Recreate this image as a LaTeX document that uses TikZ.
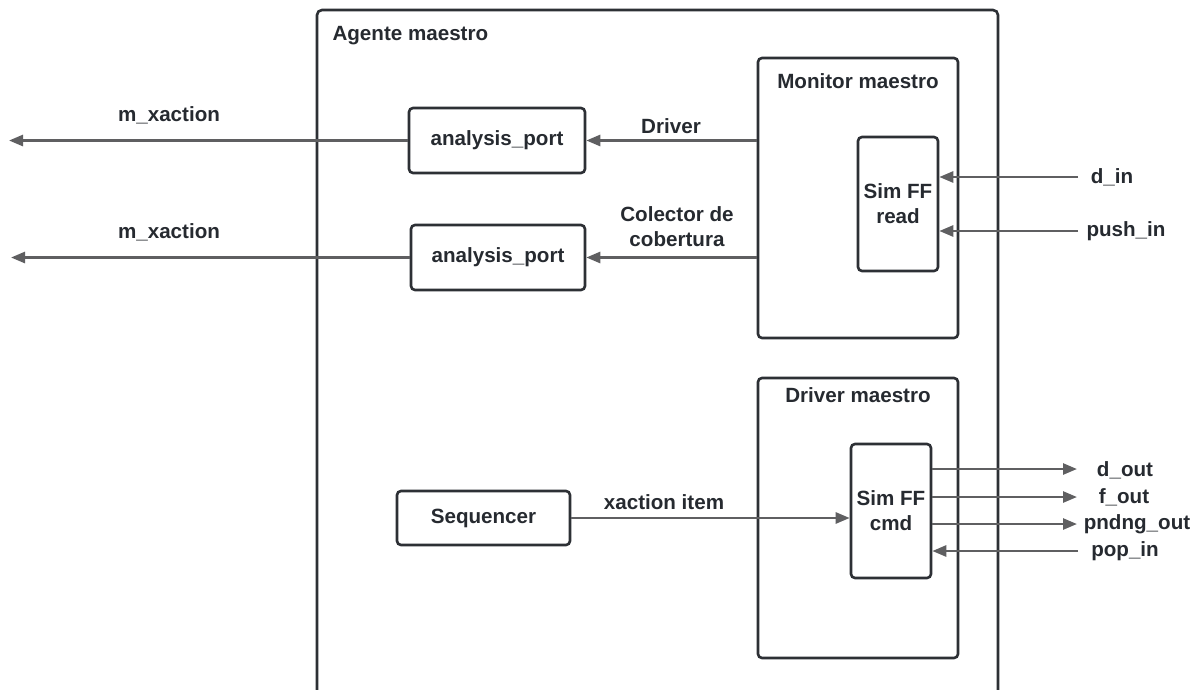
\documentclass[tikz,border=0pt]{standalone}
\usepackage{fontspec}
\setmainfont{Liberation Sans}
\usetikzlibrary{arrows.meta}
\definecolor{boxc}{HTML}{2D3035}
\definecolor{arrc}{HTML}{5F5F61}
\definecolor{txtc}{HTML}{262A30}
\begin{document}
\begin{tikzpicture}[x=1pt,y=-1pt,
  box/.style={draw=boxc, line width=2.6pt, rounded corners=4pt, fill=white, inner sep=0pt},
  lbl/.style={text=txtc, font=\fontsize{20.6}{25}\selectfont\bfseries, align=center},
  arr/.style={draw=arrc, line width=2.6pt, -{Triangle[length=14pt,width=11pt]}}]
\useasboundingbox (0,0) rectangle (1197,689);
\fill[white] (0,0) rectangle (1197,689);
% outer agent box (open at the bottom)
\coordinate (obl) at (317,700);
\coordinate (obr) at (998,700);
\draw[draw=boxc, line width=2.6pt, rounded corners=5pt] (obl) -- (317,10) -- (998,10) -- (obr);
\node[lbl, anchor=west] (agtitle) at (329,36) {Agente maestro};
% monitor
\node[box, minimum width=200pt, minimum height=280pt] (mon) at (858,198) {};
\node[lbl] (montitle) at (858,81) {Monitor maestro};
\node[box, lbl, minimum width=80pt, minimum height=134pt] (rd) at (898,204) {Sim FF\\read};
% driver
\node[box, minimum width=200pt, minimum height=280pt] (drv) at (858,518) {};
\node[lbl] (drvtitle) at (858,395) {Driver maestro};
\node[box, lbl, minimum width=80pt, minimum height=134pt] (cmd) at (891,511) {Sim FF\\cmd};
% analysis ports and sequencer
\node[box, lbl, minimum width=176pt, minimum height=65pt] (ap1) at (497,140.5) {analysis\_port};
\node[box, lbl, minimum width=174pt, minimum height=65pt] (ap2) at (498,257.5) {analysis\_port};
\node[box, lbl, minimum width=173pt, minimum height=54pt] (seq) at (483.5,518) {Sequencer};
% free ends
\coordinate (mx1) at (9,140.5);
\coordinate (mx2) at (11,257.5);
\coordinate (din) at (1078,177);
\coordinate (pushin) at (1078,231);
\coordinate (dout) at (1077,469);
\coordinate (fout) at (1077,497);
\coordinate (pout) at (1077,524);
\coordinate (popin) at (1078,551);
% connectors
\draw[arr] (mon.west |- ap1.east) -- (ap1.east);
\draw[arr] (mon.west |- ap2.east) -- (ap2.east);
\draw[arr] (ap1.west) -- (mx1);
\draw[arr] (ap2.west) -- (mx2);
\draw[arr] (din) -- (rd.east |- din);
\draw[arr] (pushin) -- (rd.east |- pushin);
\draw[arr] (seq.east) -- (cmd.west |- seq.east);
\draw[arr] (cmd.east |- dout) -- (dout);
\draw[arr] (cmd.east |- fout) -- (fout);
\draw[arr] (cmd.east |- pout) -- (pout);
\draw[arr] (popin) -- (cmd.east |- popin);
% labels
\node[lbl] (l1) at (671,126) {Driver};
\node[lbl] (l2) at (677,227) {Colector de\\cobertura};
\node[lbl] (l3) at (169,115) {m\_xaction};
\node[lbl] (l4) at (169,232) {m\_xaction};
\node[lbl] (l5) at (664,502) {xaction item};
\node[lbl] (l6) at (1112,177) {d\_in};
\node[lbl] (l7) at (1126,231) {push\_in};
\node[lbl] (l8) at (1125,470) {d\_out};
\node[lbl] (l9) at (1124,497) {f\_out};
\node[lbl] (l10) at (1137,524) {pndng\_out};
\node[lbl] (l11) at (1125,551) {pop\_in};
\end{tikzpicture}
\end{document}
